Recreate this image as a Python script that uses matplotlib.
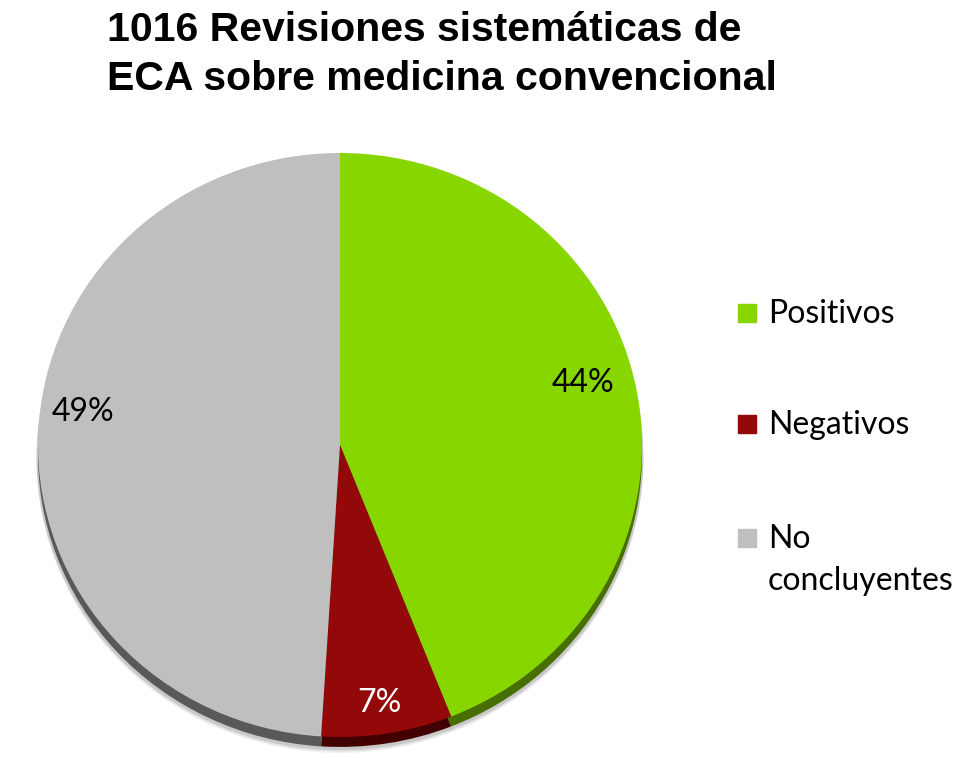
import numpy as np
import matplotlib
matplotlib.use("Agg")
import matplotlib.pyplot as plt

# data
categories = ["Positivos", "Negativos", "No\nconcluyentes"]
shares = [44, 7, 49]
title = "1016 Revisiones sistemáticas de\nECA sobre medicina convencional"

top_colors = ["#88d600", "#930808", "#bfbfbf"]
side_colors = ["#466e00", "#420000", "#595959"]

W, H = 978, 758
fig = plt.figure(figsize=(W / 100, H / 100), dpi=100)

# pie axes in pixel coords: x 38..642, y 150..750
left, right, top, bottom = 38, 642, 150, 750
ax = fig.add_axes([left / W, 1 - bottom / H, (right - left) / W, (bottom - top) / H])
ry = 292.0
cy = 153 + ry
ax.axis("off")

# soft shadow + side band (tilted look)
for k, a in zip([0.05, 0.045, 0.04], [0.05, 0.07, 0.1]):
    ax.pie([1], colors=["black"], radius=1.005, center=(0, -k),
           wedgeprops=dict(alpha=a, linewidth=0))
ax.pie(shares, colors=side_colors, startangle=90, counterclock=False,
       center=(0, -0.034), wedgeprops=dict(linewidth=0))
wedges, texts, autotexts = ax.pie(
    shares, colors=top_colors, startangle=90, counterclock=False,
    autopct="%d%%", pctdistance=0.84,
    wedgeprops=dict(linewidth=0),
    textprops=dict(fontsize=23, family=["Lato", "DejaVu Sans"]))
ax.set_xlim(-1, 1)
ax.set_ylim(-(bottom - cy) / ry, (cy - top) / ry)
ax.set_aspect("auto")

autotexts[1].set_color("white")
# label nudges (the original places them a bit off the mid-angle)
for t, dx, dy in zip(autotexts, [-0.02, 0.0, -0.01], [0.055, -0.055, 0.085]):
    x, y = t.get_position()
    t.set_position((x + dx, y + dy))

fig.text(107 / W, 1 - 11 / H, title, ha="left", va="top", fontsize=29.5,
         fontweight="bold", family="Liberation Sans", linespacing=1.35)

# legend
ys = [313, 424, 538]
for lab, col, yy in zip(categories, top_colors, ys):
    fig.patches.append(plt.Rectangle((738 / W, 1 - (yy + 9) / H), 18 / W, 18 / H,
                                     transform=fig.transFigure, color=col))
    fig.text(768 / W, 1 - (yy - 14) / H, lab, ha="left", va="top", fontsize=23,
             family=["Lato", "DejaVu Sans"], linespacing=1.5)

fig.savefig("out.png", dpi=100)
